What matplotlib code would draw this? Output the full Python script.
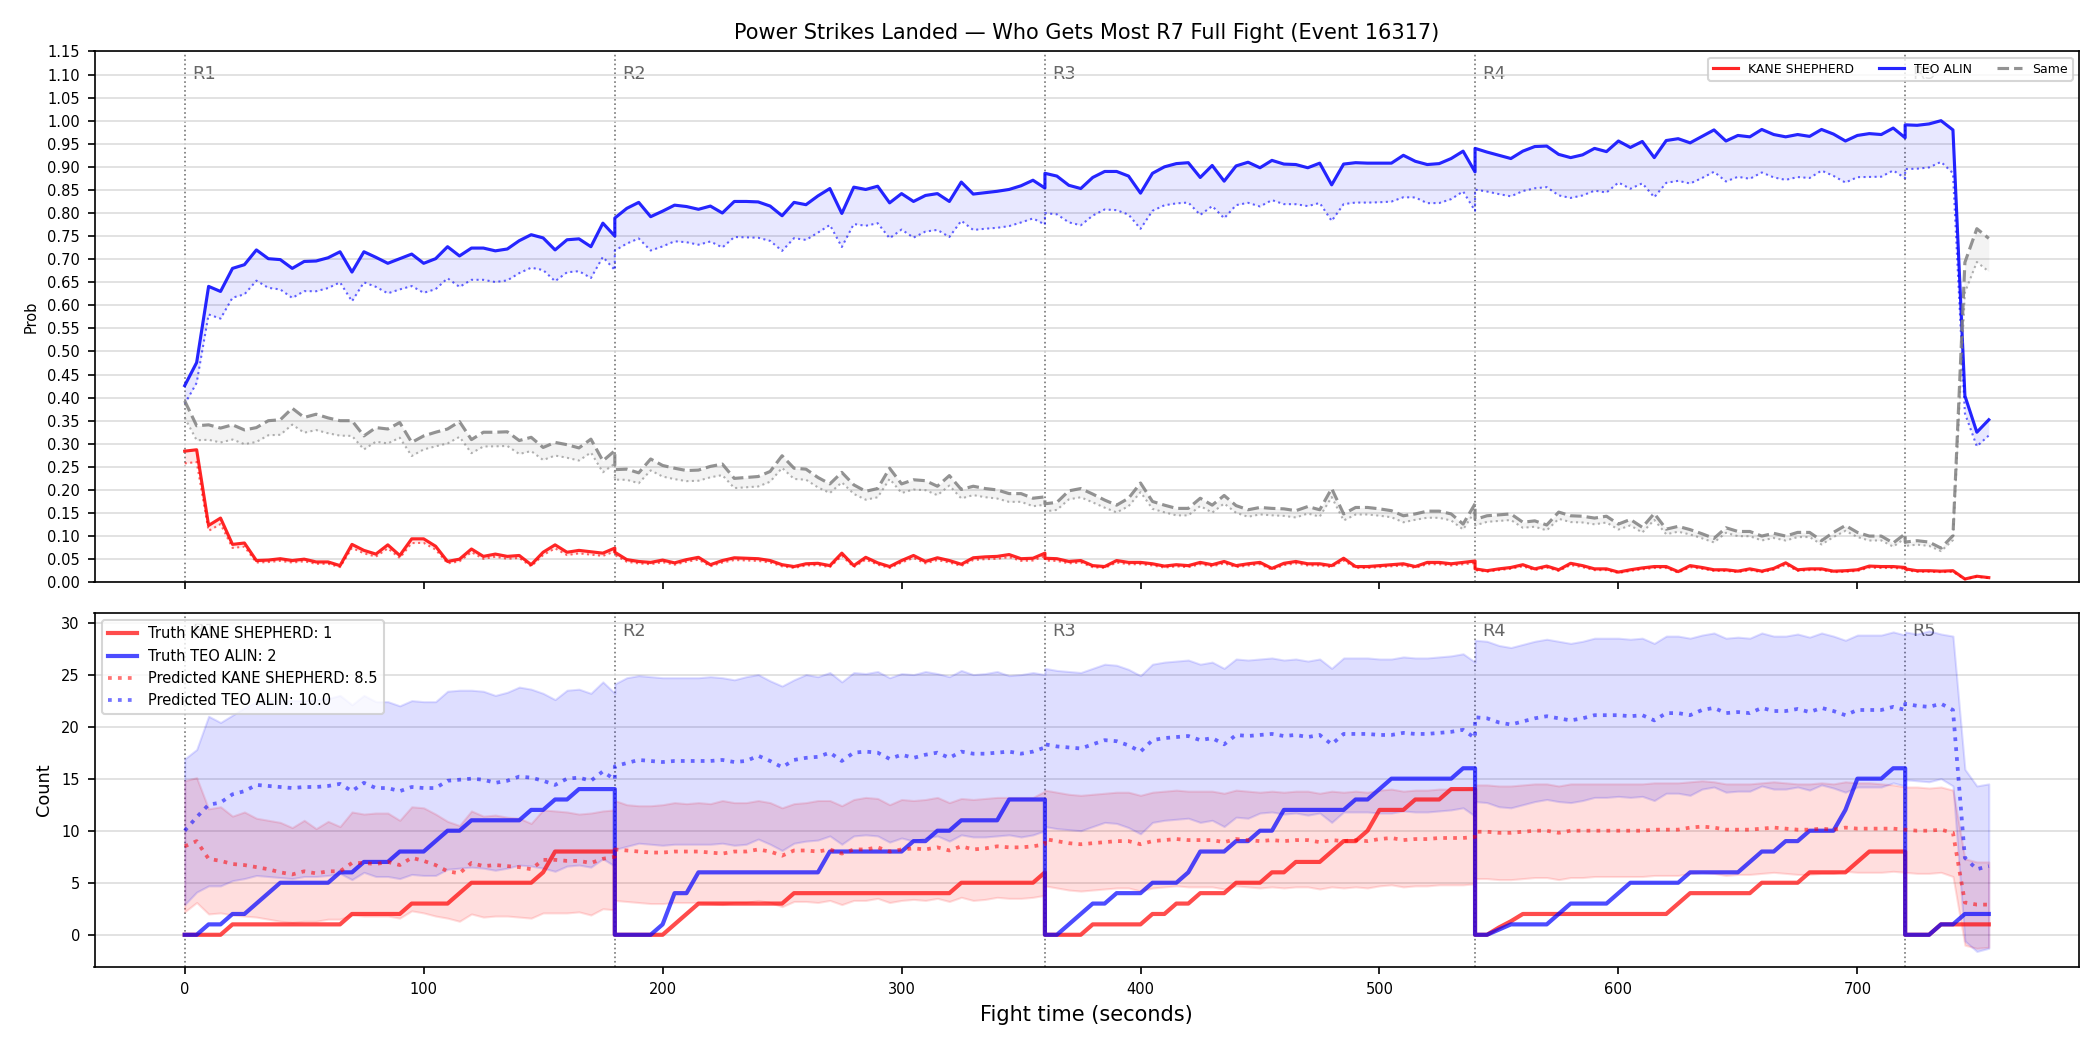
import matplotlib
matplotlib.use("Agg")
import matplotlib.pyplot as plt
import numpy as np

# rounds: sampled every 5 s, the boundary second appears in both rounds
round_starts = [0, 180, 360, 540, 720]
round_ends   = [180, 360, 540, 720, 755]
round_labels = ["R1", "R2", "R3", "R4", "R5"]
time = np.concatenate([np.arange(s, e + 1, 5) for s, e in zip(round_starts, round_ends)])

# ---- top panel: win probabilities (raw) ----
p_kane = [
    0.284, 0.287, 0.123, 0.139, 0.082, 0.085, 0.047, 0.048, 0.051, 0.047, 0.050, 0.044, 0.044, 0.036, 0.082, 0.069, 0.061, 0.081, 0.058,
    0.094, 0.094, 0.078, 0.045, 0.050, 0.072, 0.056, 0.061, 0.056, 0.058, 0.038, 0.065, 0.081, 0.065, 0.069, 0.066, 0.063, 0.074,
    0.065, 0.049, 0.045, 0.043, 0.048, 0.042, 0.049, 0.054, 0.038, 0.047, 0.053, 0.052, 0.051, 0.047, 0.038, 0.034, 0.040, 0.041, 0.036,
    0.063, 0.036, 0.054, 0.042, 0.034, 0.047, 0.058, 0.045, 0.053, 0.047, 0.039, 0.053, 0.055, 0.056, 0.060, 0.051, 0.052, 0.063,
    0.052, 0.051, 0.045, 0.047, 0.036, 0.034, 0.047, 0.043, 0.043, 0.040, 0.035, 0.038, 0.036, 0.043, 0.038, 0.045, 0.036, 0.040, 0.043,
    0.030, 0.041, 0.045, 0.040, 0.040, 0.036, 0.052, 0.034, 0.034, 0.036, 0.038, 0.040, 0.034, 0.043, 0.043, 0.040, 0.043, 0.046,
    0.029, 0.025, 0.029, 0.032, 0.038, 0.029, 0.035, 0.027, 0.041, 0.036, 0.029, 0.029, 0.022, 0.027, 0.031, 0.034, 0.034, 0.023, 0.036,
    0.032, 0.027, 0.027, 0.024, 0.029, 0.024, 0.030, 0.042, 0.027, 0.029, 0.029, 0.024, 0.025, 0.027, 0.035, 0.034, 0.034, 0.032,
    0.029, 0.025, 0.025, 0.024, 0.025, 0.007, 0.013, 0.010,
]
p_teo = [
    0.426, 0.476, 0.641, 0.630, 0.680, 0.688, 0.720, 0.701, 0.699, 0.680, 0.695, 0.696, 0.703, 0.716, 0.672, 0.716, 0.704, 0.691, 0.701,
    0.711, 0.691, 0.701, 0.727, 0.707, 0.724, 0.724, 0.718, 0.722, 0.740, 0.753, 0.746, 0.720, 0.742, 0.744, 0.727, 0.778, 0.750,
    0.789, 0.810, 0.823, 0.792, 0.804, 0.817, 0.814, 0.808, 0.815, 0.800, 0.825, 0.825, 0.824, 0.815, 0.794, 0.823, 0.818, 0.837, 0.853,
    0.799, 0.856, 0.851, 0.858, 0.822, 0.842, 0.825, 0.838, 0.842, 0.825, 0.867, 0.841, 0.844, 0.847, 0.851, 0.859, 0.871, 0.854,
    0.886, 0.880, 0.860, 0.853, 0.877, 0.890, 0.890, 0.880, 0.843, 0.886, 0.900, 0.907, 0.909, 0.877, 0.903, 0.869, 0.902, 0.910, 0.898,
    0.914, 0.906, 0.905, 0.898, 0.908, 0.861, 0.906, 0.909, 0.908, 0.908, 0.908, 0.925, 0.912, 0.905, 0.907, 0.918, 0.934, 0.889,
    0.940, 0.932, 0.925, 0.918, 0.934, 0.944, 0.945, 0.927, 0.920, 0.926, 0.940, 0.933, 0.956, 0.942, 0.955, 0.920, 0.957, 0.961, 0.952,
    0.966, 0.980, 0.956, 0.968, 0.965, 0.981, 0.970, 0.965, 0.970, 0.966, 0.981, 0.971, 0.956, 0.968, 0.972, 0.970, 0.984, 0.963,
    0.991, 0.990, 0.993, 1.000, 0.980, 0.404, 0.325, 0.352,
]
p_same = [
    0.393, 0.339, 0.341, 0.334, 0.341, 0.330, 0.335, 0.350, 0.352, 0.377, 0.357, 0.364, 0.356, 0.350, 0.350, 0.317, 0.335, 0.332, 0.346,
    0.303, 0.317, 0.325, 0.332, 0.348, 0.309, 0.325, 0.325, 0.326, 0.307, 0.314, 0.292, 0.303, 0.298, 0.291, 0.310, 0.263, 0.285,
    0.244, 0.245, 0.237, 0.267, 0.253, 0.247, 0.242, 0.243, 0.251, 0.256, 0.225, 0.227, 0.229, 0.240, 0.274, 0.247, 0.245, 0.227, 0.213,
    0.238, 0.211, 0.197, 0.203, 0.247, 0.213, 0.222, 0.220, 0.208, 0.231, 0.201, 0.208, 0.203, 0.200, 0.192, 0.192, 0.182, 0.185,
    0.170, 0.173, 0.198, 0.203, 0.191, 0.178, 0.167, 0.182, 0.215, 0.175, 0.167, 0.160, 0.160, 0.182, 0.167, 0.188, 0.166, 0.157, 0.162,
    0.160, 0.159, 0.155, 0.164, 0.157, 0.203, 0.148, 0.162, 0.162, 0.159, 0.155, 0.144, 0.148, 0.154, 0.154, 0.148, 0.126, 0.170,
    0.136, 0.144, 0.146, 0.148, 0.130, 0.133, 0.124, 0.152, 0.144, 0.143, 0.139, 0.143, 0.126, 0.136, 0.119, 0.149, 0.115, 0.121, 0.114,
    0.105, 0.095, 0.118, 0.110, 0.110, 0.100, 0.106, 0.100, 0.108, 0.108, 0.090, 0.108, 0.123, 0.108, 0.100, 0.100, 0.085, 0.105,
    0.087, 0.090, 0.087, 0.074, 0.101, 0.693, 0.766, 0.745,
]

# ---- bottom panel: counts ----
truth_kane = [
    0, 0, 0, 0, 1, 1, 1, 1, 1, 1, 1, 1, 1, 1, 2, 2, 2, 2, 2, 3, 3, 3, 3, 4, 5, 5, 5, 5, 5, 5, 6, 8, 8, 8, 8, 8, 8,
    0, 0, 0, 0, 0, 1, 2, 3, 3, 3, 3, 3, 3, 3, 3, 4, 4, 4, 4, 4, 4, 4, 4, 4, 4, 4, 4, 4, 4, 5, 5, 5, 5, 5, 5, 5, 6,
    0, 0, 0, 0, 1, 1, 1, 1, 1, 2, 2, 3, 3, 4, 4, 4, 5, 5, 5, 6, 6, 7, 7, 7, 8, 9, 9, 10, 12, 12, 12, 13, 13, 13, 14, 14, 14,
    0, 0, 0.7, 1.3, 2, 2, 2, 2, 2, 2, 2, 2, 2, 2, 2, 2, 2, 3, 4, 4, 4, 4, 4, 4, 5, 5, 5, 5, 6, 6, 6, 6, 7, 8, 8, 8, 8,
    0, 0, 0, 1, 1, 1, 1, 1,
]
truth_teo = [
    0, 0, 1, 1, 2, 2, 3, 4, 5, 5, 5, 5, 5, 6, 6, 7, 7, 7, 8, 8, 8, 9, 10, 10, 11, 11, 11, 11, 11, 12, 12, 13, 13, 14, 14, 14, 14,
    0, 0, 0, 0, 1, 4, 4, 6, 6, 6, 6, 6, 6, 6, 6, 6, 6, 6, 8, 8, 8, 8, 8, 8, 8, 9, 9, 10, 10, 11, 11, 11, 11, 13, 13, 13, 13,
    0, 0, 1, 2, 3, 3, 4, 4, 4, 5, 5, 5, 6, 8, 8, 8, 9, 9, 10, 10, 12, 12, 12, 12, 12, 12, 13, 13, 14, 15, 15, 15, 15, 15, 15, 16, 16,
    0, 0, 0.5, 1, 1, 1, 1, 2, 3, 3, 3, 3, 4, 5, 5, 5, 5, 5, 6, 6, 6, 6, 6, 7, 8, 8, 9, 9, 10, 10, 10, 12, 15, 15, 15, 16, 16,
    0, 0, 0, 1, 1, 2, 2, 2,
]
pred_kane = [
    8.5, 9.0, 7.3, 7.1, 6.8, 6.7, 6.5, 6.3, 6.0, 5.8, 6.1, 5.9, 6.1, 6.1, 6.9, 6.9, 6.8, 7.0, 6.7,
    7.4, 7.1, 6.7, 6.1, 5.9, 6.9, 6.6, 6.7, 6.6, 6.5, 6.3, 7.2, 7.2, 7.1, 7.1, 6.9, 7.3, 7.5,
    8.2, 8.1, 8.0, 7.9, 7.9, 8.0, 8.0, 8.0, 7.9, 7.8, 8.0, 8.0, 8.2, 8.0, 7.6, 8.1, 8.1, 8.0, 8.2,
    7.8, 8.2, 8.2, 8.4, 8.0, 8.2, 8.3, 8.2, 8.4, 8.1, 8.5, 8.2, 8.3, 8.5, 8.4, 8.4, 8.5, 8.7,
    9.2, 9.0, 8.8, 8.7, 8.8, 8.9, 9.0, 9.0, 8.7, 9.0, 9.1, 9.2, 9.1, 9.1, 9.1, 8.9, 9.2, 9.1, 9.0,
    9.1, 9.0, 9.1, 9.1, 8.9, 9.1, 9.0, 9.1, 9.0, 9.2, 9.3, 9.1, 9.2, 9.2, 9.3, 9.3, 9.3, 9.4,
    9.9, 9.9, 9.8, 9.8, 9.9, 10.0, 10.0, 9.8, 10.0, 10.0, 10.0, 10.0, 10.0, 10.0, 10.0, 10.1, 10.1, 10.1, 10.3,
    10.4, 10.3, 10.1, 10.1, 10.1, 10.2, 10.3, 10.2, 10.1, 10.1, 10.2, 10.1, 10.3, 10.2, 10.2, 10.2, 10.2, 10.1,
    10.1, 10.0, 10.0, 10.1, 9.8, 3.1, 2.9, 2.9,
]
kane_hi = [
    14.8, 15.1, 12.1, 12.3, 11.4, 11.8, 11.2, 11.0, 10.8, 10.3, 11.0, 10.2, 10.9, 10.4, 11.8, 11.6, 11.7, 11.7, 11.0,
    12.3, 12.2, 11.6, 10.9, 10.5, 11.9, 11.4, 11.5, 11.3, 11.2, 10.7, 12.0, 11.9, 11.8, 11.6, 11.7, 11.9, 12.0,
    12.9, 12.5, 12.4, 12.4, 12.5, 12.7, 12.6, 12.7, 12.6, 12.9, 12.7, 12.7, 12.9, 12.7, 12.2, 12.6, 12.7, 12.9, 12.9,
    12.4, 13.0, 13.2, 13.1, 12.5, 13.0, 12.9, 13.0, 13.2, 12.7, 13.1, 13.0, 13.1, 13.2, 13.2, 13.2, 13.2, 13.8,
    13.9, 13.7, 13.5, 13.4, 13.5, 13.6, 13.7, 13.7, 13.4, 13.7, 13.8, 13.9, 13.8, 13.8, 13.8, 13.6, 13.9, 13.8, 13.7,
    13.8, 13.7, 13.8, 13.8, 13.6, 13.8, 13.7, 13.8, 13.7, 13.9, 14.0, 13.8, 13.9, 13.9, 14.0, 14.0, 14.0, 14.1,
    14.4, 14.4, 14.3, 14.3, 14.4, 14.5, 14.5, 14.3, 14.5, 14.5, 14.5, 14.5, 14.5, 14.5, 14.5, 14.6, 14.6, 14.6, 14.7,
    14.8, 14.7, 14.5, 14.5, 14.5, 14.6, 14.7, 14.6, 14.5, 14.5, 14.6, 14.5, 14.7, 14.6, 14.6, 14.5, 14.4, 14.2,
    14.2, 14.2, 14.1, 14.2, 13.9, 7.3, 7.0, 7.0,
]
kane_lo = [
    2.2, 3.1, 2.0, 2.1, 1.9, 1.8, 1.7, 1.5, 1.3, 1.2, 1.3, 1.3, 1.5, 1.5, 1.9, 1.8, 1.8, 1.8, 1.6,
    2.3, 2.1, 1.8, 1.6, 1.3, 2.0, 1.7, 1.8, 1.8, 1.7, 1.6, 2.1, 2.1, 2.1, 2.2, 1.9, 2.5, 2.4,
    3.3, 3.2, 3.1, 3.0, 3.0, 3.1, 3.1, 3.1, 3.0, 2.9, 3.1, 3.1, 3.3, 3.1, 2.7, 3.2, 3.2, 3.1, 3.3,
    2.9, 3.3, 3.3, 3.5, 3.1, 3.3, 3.4, 3.3, 3.5, 3.2, 3.6, 3.3, 3.4, 3.6, 3.5, 3.5, 3.6, 3.8,
    4.7, 4.5, 4.3, 4.2, 4.3, 4.4, 4.5, 4.5, 4.2, 4.5, 4.6, 4.7, 4.6, 4.6, 4.6, 4.4, 4.7, 4.6, 4.5,
    4.6, 4.5, 4.6, 4.6, 4.4, 4.6, 4.5, 4.6, 4.5, 4.7, 4.8, 4.6, 4.7, 4.7, 4.8, 4.8, 4.8, 4.9,
    5.4, 5.4, 5.3, 5.3, 5.4, 5.5, 5.5, 5.3, 5.5, 5.5, 5.6, 5.6, 5.6, 5.6, 5.6, 5.7, 5.7, 5.7, 5.9,
    6.0, 5.9, 5.7, 5.8, 5.8, 5.9, 6.0, 5.9, 5.8, 5.8, 5.9, 5.9, 6.1, 6.0, 6.0, 6.0, 6.1, 6.0,
    6.0, 5.9, 5.9, 6.0, 5.6, -1.0, -1.3, -1.2,
]
pred_teo = [
    10.0, 11.3, 12.5, 12.7, 13.5, 13.8, 14.4, 14.3, 14.2, 14.1, 14.2, 14.2, 14.3, 14.5, 13.8, 14.6, 14.1, 14.1, 13.8,
    14.2, 14.1, 14.1, 14.8, 14.9, 15.0, 14.9, 14.6, 14.8, 15.2, 15.1, 14.8, 14.4, 15.0, 15.1, 14.8, 15.7, 14.9,
    16.2, 16.5, 16.8, 16.7, 16.6, 16.7, 16.7, 16.7, 16.7, 16.8, 16.6, 16.7, 17.2, 16.7, 16.1, 16.8, 17.0, 17.1, 17.5,
    16.7, 17.5, 17.6, 17.5, 16.9, 17.3, 17.0, 17.3, 17.5, 17.0, 17.6, 17.4, 17.4, 17.5, 17.6, 17.4, 17.6, 18.0,
    18.3, 18.1, 18.0, 17.9, 18.3, 18.7, 18.6, 18.2, 17.6, 18.7, 18.9, 19.0, 19.1, 18.7, 18.9, 18.3, 19.2, 19.1, 19.2,
    19.3, 19.1, 19.2, 19.0, 19.2, 18.3, 19.3, 19.3, 19.3, 19.2, 19.2, 19.4, 19.3, 19.3, 19.4, 19.5, 19.7, 18.9,
    20.9, 20.8, 20.4, 20.2, 20.5, 20.8, 21.0, 20.8, 20.6, 20.8, 21.1, 21.1, 21.1, 21.0, 21.1, 20.6, 21.3, 21.3, 21.1,
    21.6, 21.8, 21.3, 21.4, 21.3, 21.8, 21.5, 21.5, 21.7, 21.4, 21.8, 21.5, 21.1, 21.6, 21.6, 21.6, 21.9, 21.6,
    22.2, 22.0, 21.9, 22.2, 21.6, 7.4, 6.3, 6.6,
]
teo_hi = [
    16.9, 17.8, 21.0, 20.4, 21.1, 21.8, 22.4, 22.5, 22.5, 22.5, 22.5, 22.6, 22.7, 23.0, 22.1, 23.0, 22.4, 22.4, 22.0,
    22.5, 22.4, 22.4, 23.4, 23.5, 23.5, 23.4, 23.0, 23.3, 23.8, 23.6, 23.2, 22.6, 23.5, 23.6, 23.2, 24.3, 23.2,
    24.1, 24.7, 24.9, 24.8, 24.7, 24.7, 24.7, 24.7, 24.8, 24.7, 24.5, 24.8, 25.0, 24.4, 23.9, 24.5, 25.0, 24.8, 25.2,
    24.3, 25.2, 25.1, 25.3, 24.7, 25.1, 25.0, 25.3, 25.1, 24.8, 25.4, 25.0, 25.1, 25.3, 24.9, 25.0, 25.2, 25.0,
    25.6, 25.4, 25.3, 25.2, 25.6, 26.0, 25.9, 25.5, 24.9, 26.0, 26.2, 26.3, 26.4, 26.0, 26.2, 25.6, 26.5, 26.4, 26.5,
    26.6, 26.4, 26.5, 26.3, 26.5, 25.6, 26.6, 26.6, 26.6, 26.5, 26.5, 26.7, 26.6, 26.6, 26.7, 26.8, 27.0, 26.2,
    28.3, 28.2, 27.8, 27.6, 27.9, 28.2, 28.4, 28.2, 28.0, 28.2, 28.5, 28.5, 28.5, 28.4, 28.5, 28.0, 28.7, 28.7, 28.5,
    28.8, 29.0, 28.5, 28.6, 28.5, 29.0, 28.7, 28.7, 28.9, 28.6, 29.0, 28.7, 28.3, 28.8, 28.8, 28.8, 29.1, 28.8,
    29.1, 28.9, 29.2, 28.9, 28.7, 15.9, 14.3, 14.5,
]
teo_lo = [
    2.9, 4.1, 4.7, 4.7, 5.2, 5.4, 5.7, 5.6, 5.5, 5.4, 5.6, 5.6, 5.7, 5.9, 5.3, 6.0, 5.6, 5.6, 5.4,
    5.8, 5.7, 5.7, 6.3, 6.4, 6.5, 6.4, 6.2, 6.4, 6.7, 6.6, 6.4, 6.1, 6.6, 6.7, 6.5, 7.3, 6.6,
    8.2, 8.5, 8.8, 8.7, 8.6, 8.7, 8.7, 8.7, 8.7, 8.8, 8.6, 8.7, 9.2, 8.7, 8.1, 8.8, 9.0, 9.1, 9.5,
    8.7, 9.5, 9.6, 9.5, 8.9, 9.3, 9.0, 9.3, 9.5, 9.0, 9.6, 9.4, 9.4, 9.5, 9.6, 9.4, 9.6, 10.0,
    10.4, 10.2, 10.1, 10.0, 10.4, 10.8, 10.7, 10.3, 9.7, 10.8, 11.0, 11.1, 11.2, 10.8, 11.0, 10.4, 11.3, 11.2, 11.7,
    11.8, 11.6, 11.7, 11.5, 11.7, 10.8, 11.8, 11.8, 11.8, 11.7, 11.7, 11.9, 11.8, 11.8, 11.9, 12.0, 12.2, 11.4,
    12.8, 12.7, 12.3, 12.2, 12.5, 12.8, 13.0, 12.8, 12.7, 12.9, 13.2, 13.2, 13.3, 13.2, 13.3, 12.9, 13.6, 13.6, 13.4,
    14.0, 14.2, 13.7, 13.8, 13.8, 14.3, 14.0, 14.0, 14.2, 13.9, 14.4, 14.1, 13.7, 14.2, 14.2, 14.2, 14.6, 14.3,
    14.9, 14.8, 14.7, 15.0, 14.3, -0.6, -1.6, -1.3,
]

p_kane, p_teo, p_same = np.array(p_kane), np.array(p_teo), np.array(p_same)
# normalised versions (dotted lines)
p_total = p_kane + p_teo + p_same
n_kane, n_teo, n_same = p_kane / p_total, p_teo / p_total, p_same / p_total

RED, BLUE, GREY = "#ff0000", "#0000ff", "#808080"

fig, (ax1, ax2) = plt.subplots(2, 1, figsize=(14, 7), dpi=150, sharex=True,
                               gridspec_kw={"height_ratios": [3, 2]})
fig.subplots_adjust(left=0.045, right=0.99, top=0.951, bottom=0.079, hspace=0.07)

# ---- top ----
for p, n, c, ls, lab in [(p_kane, n_kane, RED, "-", "KANE SHEPHERD"),
                         (p_teo, n_teo, BLUE, "-", "TEO ALIN"),
                         (p_same, n_same, GREY, "--", "Same")]:
    ax1.plot(time, p, color=c, ls=ls, lw=1.5, alpha=0.85, label=lab)
    ax1.plot(time, n, color=c, ls=":", lw=1.0, alpha=0.6)
    ax1.fill_between(time, p, n, color=c, alpha=0.09, lw=0)

ax1.set_ylim(0, 1.15)
ax1.set_yticks(np.arange(0, 1.151, 0.05))
ax1.yaxis.set_major_formatter(plt.FormatStrFormatter("%.2f"))
ax1.set_ylabel("Prob", fontsize=7)
ax1.legend(loc="upper right", ncol=3, fontsize=6, framealpha=0.8)
ax1.set_title("Power Strikes Landed \u2014 Who Gets Most R7 Full Fight (Event 16317)", fontsize=10)

# ---- bottom ----
ax2.fill_between(time, kane_lo, kane_hi, color=RED, alpha=0.13, lw=1, edgecolor=(1, 0, 0, 0.15))
ax2.fill_between(time, teo_lo, teo_hi, color=BLUE, alpha=0.13, lw=1, edgecolor=(0, 0, 1, 0.15))
ax2.plot(time, truth_kane, color=RED, lw=2, alpha=0.7, label="Truth KANE SHEPHERD: 1")
ax2.plot(time, truth_teo, color=BLUE, lw=2, alpha=0.7, label="Truth TEO ALIN: 2")
ax2.plot(time, pred_kane, color=RED, ls=":", lw=1.8, alpha=0.55, label="Predicted KANE SHEPHERD: 8.5")
ax2.plot(time, pred_teo, color=BLUE, ls=":", lw=1.8, alpha=0.55, label="Predicted TEO ALIN: 10.0")
ax2.set_ylim(-3.1, 30.9)
ax2.set_yticks(np.arange(0, 31, 5))
ax2.set_ylabel("Count", fontsize=8.5)
ax2.set_xlabel("Fight time (seconds)", fontsize=10)
ax2.legend(loc="upper left", fontsize=7, framealpha=0.8)

ax2.set_xlim(-37.75, 792.75)

for ax in (ax1, ax2):
    ax.grid(axis="y", color="#dddddd", lw=0.8)
    ax.set_axisbelow(True)
    ax.tick_params(labelsize=7)
    for s, lab in zip(round_starts, round_labels):
        ax.axvline(s, color="#555555", ls=":", lw=0.8, alpha=0.8, zorder=0.5)
        ax.text(s + 3, 0.975, lab, transform=ax.get_xaxis_transform(),
                ha="left", va="top", fontsize=8.5, color="#666666", zorder=0.5)

fig.savefig("out.png", dpi=150)
